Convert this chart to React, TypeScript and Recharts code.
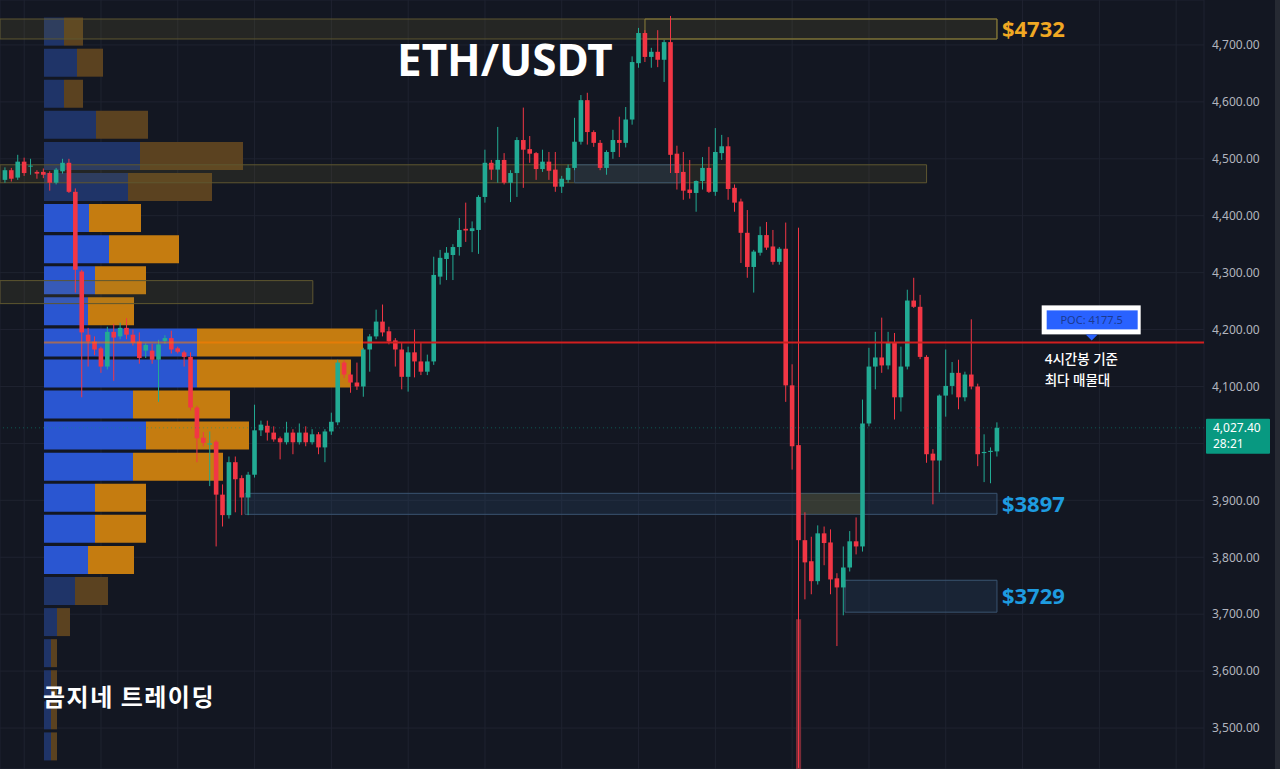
import React from 'react';
import {
  ComposedChart,
  Bar,
  XAxis,
  YAxis,
  CartesianGrid,
  ReferenceArea,
  ReferenceLine,
  ReferenceDot,
} from 'recharts';

// 4h candles, left to right
const opens = [
  4463, 4480, 4467, 4495, 4487, 4477, 4477, 4475, 4458, 4478,
  4493, 4442, 4302, 4191, 4179, 4167, 4135, 4196, 4188, 4203,
  4191, 4179, 4163, 4163, 4147, 4180, 4185, 4167, 4160, 4152,
  4063, 4010, 3998, 4003, 3910, 3874, 3967, 3939, 3905, 3945,
  4023, 4031, 4019, 4009, 4002, 4019, 4002, 4019, 4002, 4016,
  3993, 4021, 4037, 4142, 4121, 4107, 4100, 4165, 4188, 4214,
  4197, 4181, 4165, 4117, 4160, 4144, 4126, 4144, 4293, 4324,
  4331, 4345, 4377, 4373, 4375, 4433, 4493, 4481, 4498, 4458,
  4475, 4533, 4517, 4510, 4482, 4495, 4481, 4451, 4463, 4484,
  4530, 4603, 4547, 4528, 4484, 4512, 4533, 4528, 4569, 4668,
  4721, 4679, 4688, 4674, 4705, 4509, 4477, 4446, 4440, 4461,
  4484, 4442, 4510, 4522, 4449, 4425, 4370, 4310, 4335, 4366,
  4346, 4319, 4342, 4102, 3997, 3830, 3793, 3758, 3842, 3826,
  3763, 3747, 3782, 3828, 3819, 4035, 4135, 4151, 4137, 4177,
  4081, 4135, 4251, 4240, 4152, 3982, 3970, 4084, 4101, 4124,
  4081, 4121, 4100, 3983, 3985, 3986,
];
const highs = [
  4485, 4484, 4507, 4502, 4500, 4480, 4483, 4478, 4484, 4500,
  4500, 4448, 4305, 4203, 4188, 4170, 4205, 4210, 4212, 4220,
  4200, 4195, 4176, 4175, 4182, 4190, 4198, 4170, 4163, 4160,
  4066, 4020, 4021, 4006, 3928, 3977, 3977, 3944, 3950, 4068,
  4040, 4040, 4030, 4012, 4038, 4025, 4035, 4030, 4025, 4020,
  4025, 4054, 4147, 4146, 4125, 4142, 4168, 4192, 4235, 4244,
  4205, 4185, 4177, 4170, 4200, 4177, 4156, 4328, 4340, 4345,
  4350, 4396, 4423, 4390, 4436, 4516, 4498, 4556, 4510, 4480,
  4538, 4590, 4540, 4512, 4516, 4512, 4512, 4470, 4490, 4572,
  4612, 4616, 4550, 4533, 4515, 4551, 4574, 4591, 4680, 4730,
  4726, 4695, 4726, 4709, 4751, 4523, 4512, 4498, 4462, 4503,
  4521, 4554, 4542, 4538, 4455, 4430, 4410, 4340, 4381, 4389,
  4375, 4345, 4388, 4139, 4379, 3879, 3836, 3856, 3854, 3849,
  3772, 3819, 3846, 3870, 4077, 4168, 4196, 4221, 4196, 4194,
  4170, 4270, 4291, 4261, 4155, 3990, 4086, 4165, 4143, 4147,
  4126, 4218, 4105, 4016, 3993, 4037,
];
const lows = [
  4458, 4460, 4463, 4470, 4472, 4465, 4466, 4444, 4455, 4474,
  4440, 4265, 4081, 4135, 4155, 4124, 4130, 4110, 4183, 4183,
  4172, 4140, 4150, 4140, 4073, 4175, 4158, 4158, 4135, 4058,
  3967, 3995, 3925, 3819, 3854, 3868, 3879, 3874, 3874, 3940,
  4013, 4005, 4003, 3972, 3998, 3981, 3998, 3995, 3998, 3981,
  3967, 4015, 4032, 4115, 4089, 4094, 4082, 4126, 4183, 4188,
  4174, 4135, 4095, 4091, 4116, 4120, 4120, 4138, 4279, 4287,
  4287, 4330, 4354, 4336, 4333, 4423, 4463, 4458, 4455, 4424,
  4433, 4449, 4493, 4463, 4477, 4463, 4442, 4440, 4458, 4480,
  4525, 4525, 4521, 4480, 4472, 4500, 4503, 4520, 4560, 4660,
  4670, 4660, 4661, 4635, 4475, 4446, 4428, 4430, 4407, 4446,
  4440, 4435, 4498, 4428, 4407, 4317, 4291, 4265, 4330, 4340,
  4314, 4314, 4073, 3954, 3430, 3726, 3735, 3752, 3786, 3735,
  3644, 3698, 3775, 3805, 3810, 4030, 4095, 4124, 4130, 4042,
  4056, 4130, 4238, 4148, 3966, 3893, 3914, 4047, 4086, 4060,
  4074, 4095, 3960, 3932, 3930, 3977,
];
const closes = [
  4480, 4465, 4495, 4475, 4488, 4474, 4472, 4458, 4481, 4493,
  4442, 4305, 4195, 4179, 4165, 4135, 4196, 4186, 4203, 4191,
  4177, 4150, 4173, 4147, 4174, 4185, 4165, 4161, 4152, 4063,
  4009, 4001, 4000, 3910, 3874, 3967, 3937, 3905, 3945, 4023,
  4033, 4019, 4007, 4002, 4019, 4002, 4019, 4002, 4016, 3993,
  4021, 4038, 4142, 4121, 4107, 4100, 4165, 4188, 4214, 4195,
  4179, 4165, 4117, 4160, 4144, 4126, 4144, 4296, 4326, 4335,
  4345, 4375, 4374, 4378, 4433, 4493, 4481, 4498, 4458, 4475,
  4533, 4516, 4509, 4482, 4495, 4479, 4451, 4465, 4484, 4530,
  4603, 4547, 4528, 4484, 4512, 4533, 4528, 4569, 4670, 4721,
  4679, 4688, 4674, 4705, 4507, 4475, 4444, 4440, 4461, 4484,
  4442, 4512, 4522, 4447, 4423, 4370, 4310, 4337, 4366, 4344,
  4319, 4342, 4102, 3995, 3830, 3791, 3758, 3842, 3825, 3761,
  3747, 3782, 3828, 3819, 4035, 4135, 4151, 4137, 4177, 4081,
  4135, 4251, 4240, 4152, 3981, 3970, 4084, 4101, 4124, 4081,
  4121, 4100, 3981, 3985, 3987, 4027.4,
];

const priceTicks = [3500, 3600, 3700, 3800, 3900, 4000, 4100, 4200, 4300, 4400, 4500, 4600, 4700];
const timeGrid = [3, 15, 27, 39, 51, 63, 75, 87, 99, 111, 123, 135, 147, 159, 171, 183];

// volume profile rows, top to bottom (buy / sell)
const vpBuy = [20, 33, 20, 52, 96, 84, 45, 65, 51, 44, 153, 153, 89, 102, 89, 51, 51, 44, 31, 13, 7, 7, 7, 7];
const vpSell = [19, 26, 19, 52, 103, 84, 52, 70, 51, 46, 166, 154, 97, 103, 90, 51, 51, 46, 33, 13, 6, 6, 6, 6];
const POC = 4177.5;
const VP_ROW = 54.6;
const POC_ROW = 10;
const VA_FIRST = 6;
const VA_LAST = 17;

const LAST_PRICE = 4027.4;

const UP = '#22ab94';
const DOWN = '#f23645';
const BG = '#131722';
const GRID = '#1f2330';

const candles = opens.map((o, i) => ({
  i,
  o,
  h: highs[i],
  l: lows[i],
  c: closes[i],
  range: [lows[i], highs[i]],
}));

const Candle = (props: any) => {
  const { x, y, width, height, payload } = props;
  if (!payload) return null;
  const { o, h, l, c } = payload;
  const top = Math.min(y, y + height);
  const hh = Math.abs(height);
  const cx = x + width / 2;
  const ppu = hh / (h - l || 1);
  const yO = top + (h - o) * ppu;
  const yC = top + (h - c) * ppu;
  const col = c >= o ? UP : DOWN;
  return (
    <g>
      <line x1={cx} x2={cx} y1={top} y2={top + hh} stroke={col} strokeWidth={1} />
      <rect x={cx - 2.3} y={Math.min(yO, yC)} width={4.6} height={Math.max(1, Math.abs(yC - yO))} fill={col} />
    </g>
  );
};

const PocLabel = (props: any) => {
  const { cx, cy } = props;
  return (
    <g>
      <rect x={cx - 50} y={cy - 37} width={99} height={29} fill="#ffffff" />
      <rect x={cx - 45} y={cy - 32} width={91} height={19} fill="#2962ff" />
      <text x={cx} y={cy - 18.5} textAnchor="middle" fontSize={11} fill="#1c3a8f">
        POC: 4177.5
      </text>
      <polygon points={`${cx - 6},${cy - 8} ${cx + 6},${cy - 8} ${cx},${cy - 2}`} fill="#2962ff" />
      <text x={cx - 47} y={cy + 22} fontSize={13.5} fill="#ffffff" fontWeight={500}>
        4시간봉 기준
      </text>
      <text x={cx - 47} y={cy + 43} fontSize={13.5} fill="#ffffff" fontWeight={500}>
        최다 매물대
      </text>
    </g>
  );
};

const PriceTag = (props: any) => {
  const vb = props.viewBox;
  if (!vb) return null;
  const x = vb.x + vb.width;
  const y = vb.y;
  return (
    <g>
      <rect x={x + 2} y={y - 9} width={64} height={35} fill="#089981" rx={1} />
      <text x={x + 9} y={y + 4} fontSize={12} fill="#ffffff">4,027.40</text>
      <text x={x + 9} y={y + 20} fontSize={12} fill="#ffffff">28:21</text>
    </g>
  );
};

// the 4,000 label sits under the last-price tag
const fmt = (v: number) =>
  v === 4000 ? '' : v.toLocaleString('en-US', { minimumFractionDigits: 2, maximumFractionDigits: 2 });

export default function App() {
  return (
    <div
      style={{
        position: 'relative',
        width: 1280,
        height: 769,
        background: BG,
        overflow: 'hidden',
        fontFamily: "'Noto Sans', 'Noto Sans CJK KR', sans-serif",
      }}
    >
      <style>{`body{margin:0;background:${BG};}`}</style>
      <ComposedChart width={1280} height={769} data={candles} margin={{ top: 0, right: 0, bottom: 0, left: 0 }}>
        <XAxis xAxisId="t" dataKey="i" type="number" domain={[-0.78, 187.35]} ticks={timeGrid} allowDataOverflow hide />
        <XAxis xAxisId="vp" dataKey="i" type="number" domain={[-44, 1160]} allowDataOverflow hide />
        <YAxis
          orientation="right"
          width={76}
          type="number"
          domain={[3428, 4779]}
          allowDataOverflow
          ticks={priceTicks}
          tickFormatter={fmt}
          axisLine={false}
          tickLine={false}
          tick={{ fill: '#b2b5be', fontSize: 12 }}
        />
        <CartesianGrid xAxisId="t" stroke={GRID} />

        {/* volume profile */}
        {vpBuy.map((b, k) => {
          const mid = POC + (POC_ROW - k) * VP_ROW;
          const va = k >= VA_FIRST && k <= VA_LAST;
          return (
            <ReferenceArea
              key={`vb${k}`}
              xAxisId="vp"
              x1={0}
              x2={b}
              y1={mid - 24.6}
              y2={mid + 24.6}
              fill={va ? '#2a56d1' : '#1f3468'}
              fillOpacity={1}
              stroke="none"
            />
          );
        })}
        {vpSell.map((s, k) => {
          const mid = POC + (POC_ROW - k) * VP_ROW;
          const va = k >= VA_FIRST && k <= VA_LAST;
          return (
            <ReferenceArea
              key={`vs${k}`}
              xAxisId="vp"
              x1={vpBuy[k]}
              x2={vpBuy[k] + s}
              y1={mid - 24.6}
              y2={mid + 24.6}
              fill={va ? '#c57c10' : '#5b4220'}
              fillOpacity={1}
              stroke="none"
            />
          );
        })}

        {/* zones */}
        <ReferenceArea xAxisId="t" x2={155} y1={4710.5} y2={4745.6} fill="#7a6e30" fillOpacity={0.18} stroke="#5e5730" />
        <ReferenceArea
          xAxisId="t"
          x1={100}
          x2={155}
          y1={4710.5}
          y2={4745.6}
          fill="none"
          stroke="#8d7f3a"
          label={{ value: '$4732', position: 'right', fill: '#f0a823', fontSize: 22, fontWeight: 700 }}
        />
        <ReferenceArea xAxisId="t" x2={144} y1={4457.9} y2={4489.5} fill="#7a6e30" fillOpacity={0.16} stroke="#5e5730" />
        <ReferenceArea xAxisId="t" x1={89} x2={105.5} y1={4457.9} y2={4489.5} fill="#2c4a70" fillOpacity={0.25} stroke="#34506d" />
        <ReferenceArea xAxisId="t" x2={48.1} y1={4245.6} y2={4286} fill="#7a6e30" fillOpacity={0.16} stroke="#5e5730" />
        <ReferenceArea
          xAxisId="t"
          x1={37.5}
          x2={155}
          y1={3875.4}
          y2={3912.3}
          fill="#2c4a70"
          fillOpacity={0.25}
          stroke="#3a5470"
          label={{ value: '$3897', position: 'right', fill: '#1e9ce0', fontSize: 22, fontWeight: 700 }}
        />
        <ReferenceArea xAxisId="t" x1={124.2} x2={133.6} y1={3875.4} y2={3912.3} fill="#7a6e30" fillOpacity={0.3} stroke="none" />
        <ReferenceArea
          xAxisId="t"
          x1={131.25}
          x2={155}
          y1={3703.5}
          y2={3759.6}
          fill="#2c4a70"
          fillOpacity={0.25}
          stroke="#3a5470"
          label={{ value: '$3729', position: 'right', fill: '#1e9ce0', fontSize: 22, fontWeight: 700 }}
        />
        <ReferenceArea xAxisId="t" x1={123.6} x2={124.4} y1={3428} y2={3691} fill="#8c2f3b" fillOpacity={0.85} stroke="none" />

        <Bar xAxisId="t" dataKey="range" shape={<Candle />} isAnimationActive={false} />

        <ReferenceLine
          xAxisId="vp"
          segment={[{ x: 0, y: POC }, { x: 319, y: POC }]}
          stroke="#ff7b00"
          strokeOpacity={0.55}
          strokeWidth={2}
        />
        <ReferenceLine
          xAxisId="vp"
          segment={[{ x: 319, y: POC }, { x: 1160, y: POC }]}
          stroke="#d21f1f"
          strokeWidth={2}
        />
        <ReferenceLine
          xAxisId="t"
          y={LAST_PRICE}
          stroke="#089981"
          strokeOpacity={0.5}
          strokeDasharray="1 3"
          label={<PriceTag />}
        />
        <ReferenceDot xAxisId="t" x={169.8} y={POC} r={1} shape={<PocLabel />} />
      </ComposedChart>

      <div
        style={{
          position: 'absolute',
          left: 397,
          top: 29,
          color: '#ffffff',
          fontSize: 44,
          fontWeight: 700,
          lineHeight: '60px',
          whiteSpace: 'nowrap',
        }}
      >
        ETH/USDT
      </div>
      <div
        style={{
          position: 'absolute',
          left: 43,
          top: 679,
          color: '#ffffff',
          fontSize: 24,
          fontWeight: 700,
          lineHeight: '34px',
          letterSpacing: 1.5,
          whiteSpace: 'nowrap',
          fontFamily: "'Noto Sans CJK KR', sans-serif",
        }}
      >
        곰지네 트레이딩
      </div>
      <div style={{ position: 'absolute', right: 0, top: 0, width: 5, height: 769, background: '#262a33' }} />
    </div>
  );
}
